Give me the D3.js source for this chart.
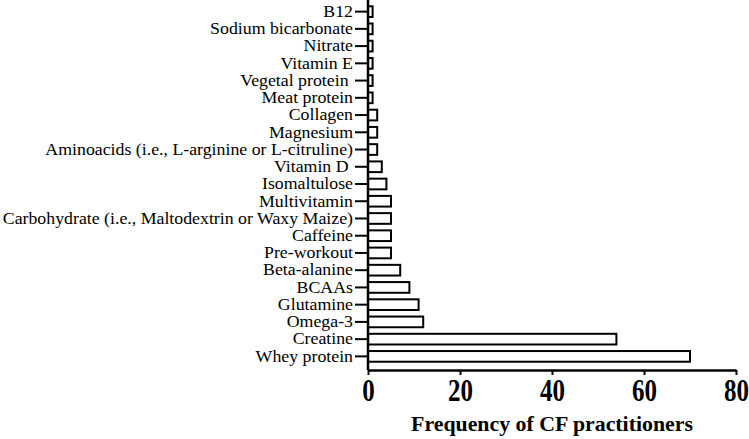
<!DOCTYPE html>
<html>
<head>
<meta charset="utf-8">
<script src="https://cdn.jsdelivr.net/npm/d3@7"></script>
<style>
  html, body { margin: 0; padding: 0; background: #fff; }
  svg { display: block; }
</style>
</head>
<body>
<div id="chart"></div>
<script>
(function () {
  'use strict';

  // top to bottom, as drawn (two labels carry a trailing space in the source)
  const SUPPLEMENTS = [
    'B12',
    'Sodium bicarbonate',
    'Nitrate',
    'Vitamin E',
    'Vegetal protein ',
    'Meat protein',
    'Collagen',
    'Magnesium',
    'Aminoacids (i.e., L-arginine or L-citruline)',
    'Vitamin D ',
    'Isomaltulose',
    'Multivitamin',
    'Carbohydrate (i.e., Maltodextrin or Waxy Maize)',
    'Caffeine',
    'Pre-workout',
    'Beta-alanine',
    'BCAAs',
    'Glutamine',
    'Omega-3',
    'Creatine',
    'Whey protein',
  ];

  const FREQUENCIES = [1, 1, 1, 1, 1, 1, 2, 2, 2, 3, 4, 5, 5, 5, 5, 7, 9, 11, 12, 54, 70];

  const X_TICKS = [0, 20, 40, 60, 80];

  const W = 749, H = 439;
  const M = { left: 368, right: 13, top: 0, bottom: 69 };
  const SERIF = "'Liberation Serif', 'Times New Roman', serif";
  const LABEL_SX = 1.08;   // the source text is a bit wide

  const data = SUPPLEMENTS.map((name, i) => ({ name, value: FREQUENCIES[i] }));

  const svg = d3.select('#chart')
    .append('svg')
    .attr('width', W)
    .attr('height', H);

  const x = d3.scaleLinear()
    .domain([0, 80])
    .range([M.left, W - M.right]);

  const axisY = H - M.bottom;   // 370

  const y = d3.scaleBand()
    .domain(SUPPLEMENTS)
    .range([3, axisY - 5])
    .paddingInner(0.38)
    .paddingOuter(0.19);

  // bars
  svg.append('g')
    .selectAll('rect')
    .data(data)
    .join('rect')
      .attr('x', x(0))
      .attr('y', d => y(d.name))
      .attr('width', d => x(d.value) - x(0))
      .attr('height', y.bandwidth())
      .attr('fill', '#fff')
      .attr('stroke', '#000')
      .attr('stroke-width', 2);

  // y axis
  const gy = svg.append('g')
    .attr('transform', `translate(${x(0)},0)`)
    .call(d3.axisLeft(y).tickSize(13).tickPadding(2).tickSizeOuter(0));
  gy.select('.domain').remove();
  gy.selectAll('.tick line').attr('stroke-width', 2);
  gy.selectAll('.tick text')
    .attr('font-family', SERIF)
    .attr('font-size', 16.5)
    .attr('fill', '#000')
    .style('white-space', 'pre')
    .attr('x', -15 / LABEL_SX)
    .attr('transform', `scale(${LABEL_SX},1)`);

  gy.append('line')
    .attr('x1', 0).attr('x2', 0)
    .attr('y1', 0).attr('y2', axisY)
    .attr('stroke', '#000')
    .attr('stroke-width', 2.5);

  // x axis
  const gx = svg.append('g')
    .attr('transform', `translate(0,${axisY})`)
    .call(d3.axisBottom(x).tickValues(X_TICKS).tickSize(5).tickSizeOuter(0).tickFormat(d3.format('d')));
  gx.select('.domain').attr('stroke-width', 2.5);
  gx.selectAll('.tick line').attr('stroke-width', 2);
  gx.selectAll('.tick text')
    .attr('font-family', SERIF)
    .attr('font-weight', 'bold')
    .attr('font-size', 25)
    .attr('fill', '#000')
    .attr('y', 0)
    .attr('dy', 0)
    .attr('transform', 'translate(0,31) scale(1,1.3)');

  svg.append('text')
    .attr('transform', `translate(${(x(0) + x(80)) / 2},431) scale(1.04,1)`)
    .attr('text-anchor', 'middle')
    .attr('font-family', SERIF)
    .attr('font-weight', 'bold')
    .attr('font-size', 21)
    .text('Frequency of CF practitioners');
})();
</script>
</body>
</html>
